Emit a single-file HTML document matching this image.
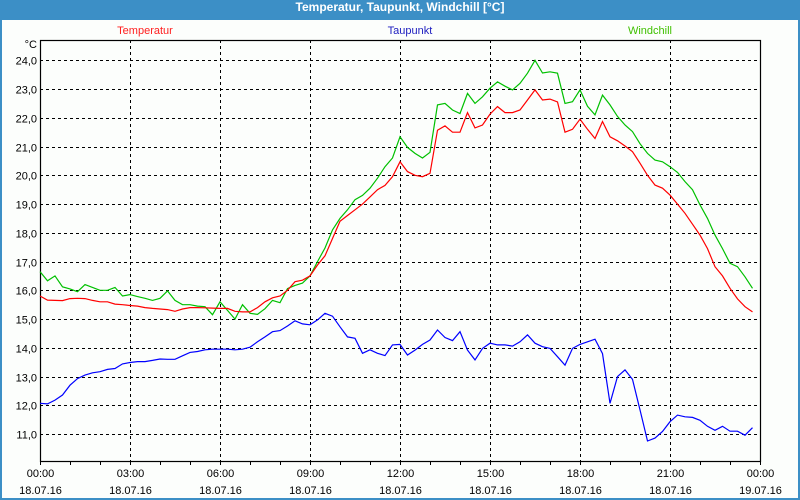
<!DOCTYPE html>
<html><head><meta charset="utf-8"><style>
html,body{margin:0;padding:0;width:800px;height:500px;overflow:hidden;background:#3c8fc6;}
#win{position:absolute;left:2px;top:20px;width:796px;height:478px;background:#fcfefc;}
#title{position:absolute;left:0;top:0;width:800px;height:20px;line-height:19px;text-align:center;color:#fff;font:bold 12px "Liberation Sans",sans-serif;}
svg{position:absolute;left:0;top:0;}
text{font-family:"Liberation Sans",sans-serif;font-size:11px;}
</style></head><body>
<div id="title">Temperatur, Taupunkt, Windchill [°C]</div>
<div id="win"></div>
<svg id="chart" width="800" height="500"></svg>
<script>
const hourTicks = ["00:00","03:00","06:00","09:00","12:00","15:00","18:00","21:00","00:00"];
const dateTicks = ["18.07.16","18.07.16","18.07.16","18.07.16","18.07.16","18.07.16","18.07.16","18.07.16","19.07.16"];
const yTicks = [11,12,13,14,15,16,17,18,19,20,21,22,23,24];
const temperatur = [15.8,15.66,15.65,15.64,15.71,15.72,15.71,15.65,15.6,15.6,15.52,15.5,15.47,15.45,15.4,15.37,15.35,15.33,15.27,15.35,15.4,15.4,15.39,15.38,15.37,15.37,15.27,15.25,15.25,15.4,15.6,15.74,15.8,16.0,16.3,16.35,16.5,16.88,17.2,17.8,18.4,18.6,18.8,19.0,19.25,19.5,19.65,19.95,20.47,20.13,20.0,19.95,20.07,21.57,21.72,21.5,21.5,22.18,21.65,21.75,22.13,22.39,22.18,22.18,22.27,22.62,22.97,22.62,22.65,22.55,21.5,21.6,21.95,21.6,21.28,21.87,21.34,21.2,21.02,20.82,20.42,20.0,19.66,19.55,19.31,19.0,18.68,18.3,17.92,17.45,16.82,16.5,16.07,15.7,15.43,15.25];
const taupunkt = [12.07,12.05,12.18,12.36,12.7,12.93,13.05,13.13,13.17,13.25,13.28,13.44,13.49,13.52,13.52,13.56,13.61,13.6,13.6,13.72,13.84,13.87,13.93,13.95,13.95,13.95,13.93,13.95,14.02,14.21,14.38,14.56,14.6,14.76,14.94,14.83,14.8,14.97,15.2,15.1,14.73,14.38,14.33,13.81,13.93,13.81,13.73,14.1,14.12,13.75,13.92,14.12,14.27,14.62,14.36,14.25,14.56,13.92,13.58,13.98,14.16,14.1,14.1,14.06,14.21,14.45,14.16,14.04,13.98,13.69,13.4,13.98,14.12,14.21,14.3,13.8,12.07,13.0,13.23,12.9,11.84,10.76,10.86,11.09,11.43,11.66,11.6,11.58,11.48,11.27,11.13,11.27,11.1,11.1,10.96,11.22];
const windchill = [16.65,16.33,16.5,16.12,16.05,15.95,16.2,16.1,16.0,16.0,16.1,15.8,15.85,15.78,15.72,15.65,15.72,15.98,15.65,15.5,15.5,15.45,15.43,15.15,15.6,15.3,15.0,15.5,15.2,15.16,15.36,15.65,15.57,16.06,16.17,16.25,16.5,17.0,17.47,18.1,18.5,18.8,19.15,19.3,19.55,19.9,20.3,20.6,21.34,20.97,20.76,20.6,20.8,22.45,22.5,22.27,22.15,22.85,22.5,22.73,23.03,23.25,23.1,22.97,23.2,23.55,24.0,23.56,23.6,23.55,22.5,22.56,22.97,22.4,22.1,22.79,22.45,22.05,21.75,21.52,21.1,20.76,20.53,20.47,20.3,20.1,19.78,19.5,18.97,18.5,17.92,17.45,16.94,16.82,16.47,16.07];

const NS="http://www.w3.org/2000/svg";
const svg=document.getElementById('chart');
const L=40,R=760,T=40,B=461;
const xOf=h=>L+h*30;              // hours -> px
const yOf=v=>60.3+(24-v)*28.75;   // °C -> px
function mk(tag,attrs){const e=document.createElementNS(NS,tag);for(const k in attrs)e.setAttribute(k,attrs[k]);svg.appendChild(e);return e;}

// horizontal grid + y labels
yTicks.forEach(v=>{
  const y=Math.round(yOf(v))+0.5;
  const g=mk('line',{x1:L,x2:R,y1:y,y2:y,stroke:'#000','stroke-dasharray':'3,3'});
  
  
  const t=mk('text',{x:37,y:y+4,'text-anchor':'end',fill:'#000'});
  t.textContent=v.toFixed(1).replace('.',',');
  
  
});
// vertical grid + x labels
hourTicks.forEach((lab,i)=>{
  const x=xOf(i*3)+0.5;
  if(i>0&&i<hourTicks.length-1){
    const g=mk('line',{x1:x,x2:x,y1:T,y2:B,stroke:'#000','stroke-dasharray':'3,3'});
    
    
  }
  const t=mk('text',{x:x,y:477,'text-anchor':'middle',fill:'#000'});
  t.textContent=lab;
  
  
  const d=mk('text',{x:x,y:494,'text-anchor':'middle',fill:'#000'});
  d.textContent=dateTicks[i];
  
  
});
// hourly ticks
for(let h=0;h<=24;h++){
  const x=xOf(h)+0.5;
  const tk=mk('line',{x1:x,x2:x,y1:B,y2:B+4,stroke:'#000'});
  
  
}
// frame
const fr=mk('rect',{x:L+0.5,y:T+0.5,width:R-L,height:B-T,fill:'none',stroke:'#000','stroke-width':1.2});


const unit=mk('text',{x:37,y:48,'text-anchor':'end',fill:'#000'});
unit.textContent='°C';



function series(arr,color,name){
  const pts=arr.map((v,i)=>xOf(i*0.25).toFixed(1)+','+yOf(v).toFixed(1)).join(' ');
  const p=mk('polyline',{points:pts,fill:'none',stroke:color,'stroke-width':1.2});
  
  
}
series(windchill,'#00c000','windchill-line');
series(temperatur,'#ff0000','temperatur-line');
series(taupunkt,'#0000ff','taupunkt-line');

[['Temperatur','#ff2020',145,'legend-temperatur'],['Taupunkt','#2020c0',410,'legend-taupunkt'],['Windchill','#40c000',650,'legend-windchill']].forEach(([t,c,x,n])=>{
  const e=mk('text',{x:x,y:34,'text-anchor':'middle',fill:c});
  e.textContent=t;
  
  
});
</script>
</body></html>
